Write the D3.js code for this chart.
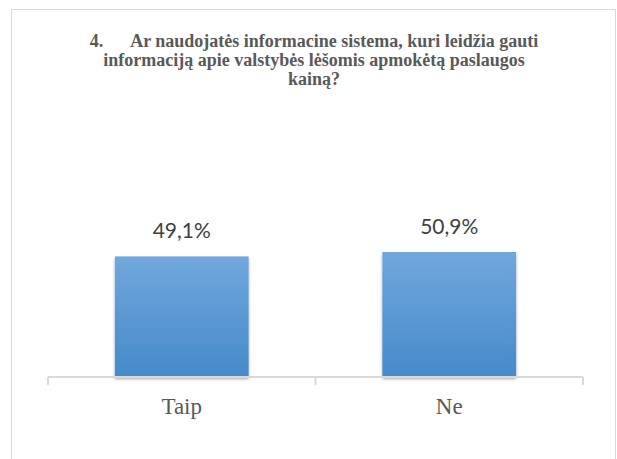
<!DOCTYPE html>
<html>
<head>
<meta charset="utf-8">
<script src="https://cdn.jsdelivr.net/npm/d3@7"></script>
<style>
  body { margin: 0; background: #fff; }
  svg { display: block; }
  .serif { font-family: "Liberation Serif", "Times New Roman", serif; }
</style>
</head>
<body>
<div id="chart"></div>
<script>
// data
const categories = ["Taip", "Ne"];
const values = [49.1, 50.9];
const titleLines = [
  "4.\u00a0\u00a0\u00a0\u00a0\u00a0\u00a0Ar naudojatės informacine sistema, kuri leidžia gauti",
  "informaciją apie valstybės lėšomis apmokėtą paslaugos",
  "kainą?"
];

const width = 617, height = 459;
const plot = {left: 48, right: 583, bottom: 377};

const svg = d3.select("#chart").append("svg")
  .attr("width", width)
  .attr("height", height);

const defs = svg.append("defs");
const grad = defs.append("linearGradient")
  .attr("id", "barGrad")
  .attr("x1", 0).attr("y1", 0).attr("x2", 0).attr("y2", 1);
grad.append("stop").attr("offset", "0%").attr("stop-color", "#71a7dc");
grad.append("stop").attr("offset", "100%").attr("stop-color", "#458acb");

const shadow = defs.append("filter").attr("id", "shadow")
  .attr("x", "-10%").attr("y", "-10%").attr("width", "120%").attr("height", "130%");
shadow.append("feDropShadow")
  .attr("dx", 0).attr("dy", 2).attr("stdDeviation", 1.5)
  .attr("flood-color", "#000").attr("flood-opacity", 0.35);

// frame
svg.append("rect")
  .attr("x", 11.5).attr("y", 9.5)
  .attr("width", 604).attr("height", 470)
  .attr("fill", "none")
  .attr("stroke", "#d9d9d9");

// title
svg.append("g")
  .selectAll("text")
  .data(titleLines)
  .join("text")
  .attr("class", "serif")
  .attr("x", 314)
  .attr("y", (d, i) => 47 + i * 19)
  .attr("text-anchor", "middle")
  .attr("font-weight", "bold")
  .attr("font-size", 18)
  .attr("fill", "#595959")
  .text(d => d);

// scales
const x = d3.scaleBand()
  .domain(categories)
  .range([plot.left, plot.right])
  .paddingInner(0.5)
  .paddingOuter(0.25);

const y = d3.scaleLinear()
  .domain([0, 60])
  .range([plot.bottom, plot.bottom - 60 * 125 / 50.9]);

// bars
svg.append("g")
  .selectAll("rect")
  .data(values)
  .join("rect")
  .attr("x", (d, i) => x(categories[i]))
  .attr("y", d => y(d))
  .attr("width", x.bandwidth())
  .attr("height", d => y(0) - y(d))
  .attr("fill", "url(#barGrad)")
  .attr("filter", "url(#shadow)");

// value labels
svg.append("g")
  .selectAll("text")
  .data(values)
  .join("text")
  .attr("x", (d, i) => x(categories[i]) + x.bandwidth() / 2)
  .attr("y", d => y(d) - 18)
  .attr("text-anchor", "middle")
  .attr("font-family", "Lato, 'Open Sans', sans-serif")
  .attr("font-size", 21)
  .attr("fill", "#404040")
  .text(d => d.toFixed(1).replace(".", ",") + "%");

// axis
const axis = svg.append("g")
  .attr("transform", `translate(0,${plot.bottom})`)
  .call(d3.axisBottom(x).tickSize(0).tickFormat(""));
axis.select(".domain")
  .attr("d", `M${plot.left},0H${plot.right}`)
  .attr("stroke", "#d9d9d9")
  .attr("stroke-width", 2);

const tickXs = [plot.left, (plot.left + plot.right) / 2, plot.right];
axis.selectAll(".sep")
  .data(tickXs)
  .join("line")
  .attr("class", "sep")
  .attr("x1", d => d).attr("x2", d => d)
  .attr("y1", 0).attr("y2", 8)
  .attr("stroke", "#d9d9d9")
  .attr("stroke-width", 2);

svg.append("g")
  .selectAll("text")
  .data(categories)
  .join("text")
  .attr("class", "serif")
  .attr("x", d => x(d) + x.bandwidth() / 2)
  .attr("y", 414)
  .attr("text-anchor", "middle")
  .attr("font-size", 23)
  .attr("fill", "#595959")
  .text(d => d);
</script>
</body>
</html>
